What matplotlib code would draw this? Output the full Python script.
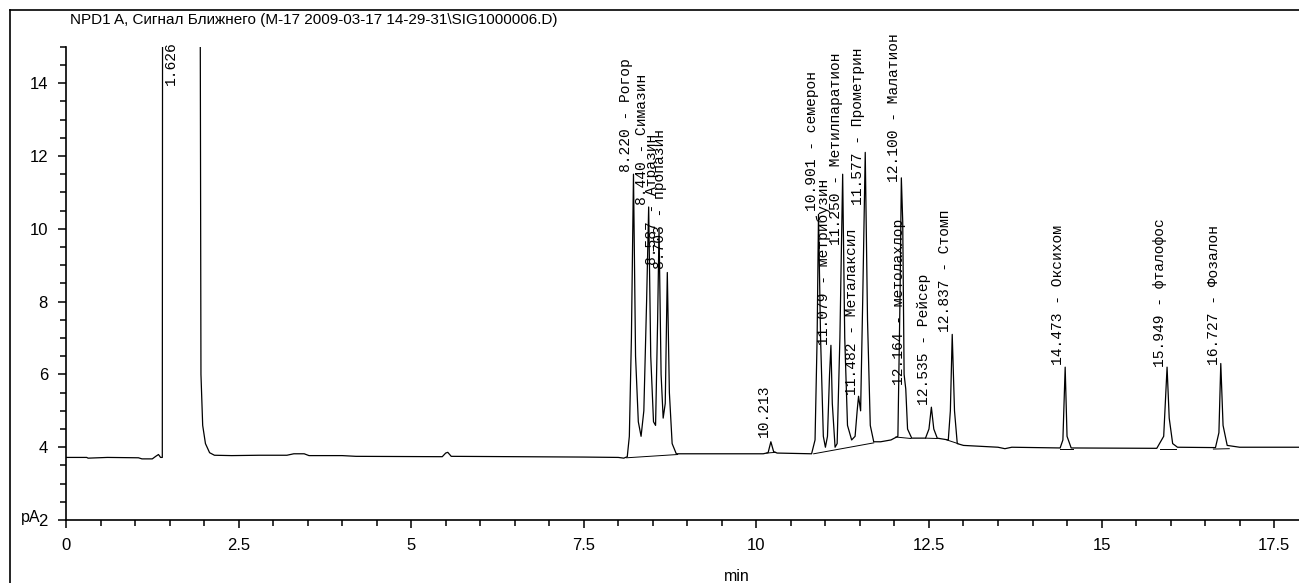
import matplotlib.pyplot as plt
from matplotlib.lines import Line2D
from matplotlib.ticker import MultipleLocator

# signal points (time in min, signal in pA)
trace_t = [0.00, 0.30, 0.32, 0.60, 1.05, 1.10, 1.25, 1.30, 1.34, 1.37, 1.395, 1.40,
           1.94, 1.955, 1.98, 2.02, 2.08, 2.15, 2.40, 2.80, 3.20, 3.30, 3.45, 3.52,
           4.00, 4.20, 5.45, 5.50, 5.53, 5.58, 6.50, 7.50, 8.00, 8.08, 8.13,
           8.16, 8.19, 8.22, 8.25, 8.29, 8.33, 8.37, 8.41, 8.44, 8.47, 8.51, 8.54,
           8.57, 8.59, 8.62, 8.65, 8.68, 8.71, 8.74, 8.78, 8.84, 8.95, 9.50, 10.10,
           10.17, 10.21, 10.25, 10.30, 10.80, 10.85, 10.88, 10.90, 10.93, 10.97,
           11.00, 11.03, 11.06, 11.08, 11.10, 11.14, 11.17, 11.21, 11.25, 11.28,
           11.32, 11.38, 11.43, 11.46, 11.48, 11.51, 11.54, 11.577, 11.61, 11.65,
           11.70, 11.80, 11.95, 12.05, 12.08, 12.10, 12.12, 12.14, 12.164, 12.19,
           12.25, 12.45, 12.50, 12.535, 12.57, 12.62, 12.78, 12.81, 12.837, 12.87,
           12.91, 13.00, 13.50, 13.60, 13.70, 14.40, 14.44, 14.473, 14.50, 14.56,
           15.80, 15.90, 15.949, 15.98, 16.03, 16.10, 16.65, 16.70, 16.727, 16.76,
           16.82, 17.00, 17.86]
trace_y = [3.72, 3.72, 3.70, 3.72, 3.71, 3.68, 3.68, 3.75, 3.80, 3.72, 3.72, 20.0,
           20.0, 6.0, 4.6, 4.1, 3.85, 3.78, 3.77, 3.78, 3.78, 3.82, 3.82, 3.77,
           3.77, 3.75, 3.74, 3.84, 3.86, 3.75, 3.74, 3.73, 3.72, 3.70, 3.74,
           4.3, 7.0, 11.5, 6.5, 4.7, 4.3, 5.0, 8.0, 10.6, 6.5, 4.7, 4.6,
           7.5, 10.0, 6.0, 4.8, 5.2, 8.8, 5.5, 4.1, 3.82, 3.82, 3.82, 3.82,
           3.85, 4.15, 3.88, 3.84, 3.82, 4.2, 7.0, 10.4, 7.0, 4.3,
           4.0, 4.3, 6.0, 6.8, 5.2, 4.0, 4.1, 7.0, 11.5, 7.0,
           4.6, 4.2, 4.3, 5.0, 5.4, 5.0, 8.0, 12.1, 7.5, 4.6,
           4.15, 4.15, 4.2, 4.3, 8.0, 11.4, 10.2, 6.0, 5.6, 4.5,
           4.25, 4.25, 4.5, 5.1, 4.5, 4.25, 4.2, 5.0, 7.1, 5.0,
           4.1, 4.05, 4.0, 3.96, 4.0, 3.98, 4.2, 6.2, 4.3, 3.98,
           3.97, 4.3, 6.2, 4.8, 4.1, 4.0, 3.99, 4.4, 6.3, 4.6,
           4.05, 4.0, 4.0]

# integration baselines
base_t0 = [8.12, 10.15, 10.83, 12.02, 12.45, 12.76, 14.40, 15.85, 16.62]
base_y0 = [3.71, 3.84, 3.82, 4.28, 4.25, 4.20, 3.95, 3.94, 3.95]
base_t1 = [8.86, 10.28, 11.70, 12.24, 12.62, 12.92, 14.58, 16.08, 16.85]
base_y1 = [3.80, 3.86, 4.12, 4.24, 4.24, 4.10, 3.95, 3.94, 3.96]

# peak labels: retention time, where the label starts, compound
peak_t = [1.626, 8.220, 8.440, 8.587, 8.703, 10.213, 10.901, 11.079, 11.250,
          11.482, 11.577, 12.100, 12.164, 12.535, 12.837, 14.473, 15.949, 16.727]
label_y = [13.95, 11.55, 10.65, 9.0, 8.9, 4.28, 10.5, 6.8, 9.55,
           5.43, 10.65, 11.3, 5.7, 5.16, 7.16, 6.26, 6.2, 6.26]
peak_names = ["", "Рогор", "Симазин", "Атразин", "пропазин", "", "семерон",
              "метрибузин", "Метилпаратион", "Металаксил", "Прометрин", "Малатион",
              "метолахлор", "Рейсер", "Стомп", "Оксихом", "фталофос", "Фозалон"]

fig = plt.figure(figsize=(12.99, 5.83), dpi=100)
ax = fig.add_axes([0.0508, 0.108, 0.9492, 0.8117])

ax.plot(trace_t, trace_y, color="black", lw=0.9)
for i in range(len(base_t0)):
    ax.plot([base_t0[i], base_t1[i]], [base_y0[i], base_y1[i]], color="black", lw=0.7)

for t, h, name in zip(peak_t, label_y, peak_names):
    txt = "%.3f" % t if name == "" else "%.3f - %s" % (t, name)
    ax.text(t, h, txt, rotation=90, ha="right", va="bottom",
            fontsize=10.5, family="Liberation Mono", clip_on=False)

ax.set_xlim(0, 17.86)
ax.set_ylim(2, 15)
for s in ["top", "right"]:
    ax.spines[s].set_visible(False)
ax.spines["left"].set_linewidth(1.2)
ax.spines["bottom"].set_linewidth(1.2)

ax.xaxis.set_major_locator(MultipleLocator(2.5))
ax.xaxis.set_minor_locator(MultipleLocator(0.5))
ax.yaxis.set_major_locator(MultipleLocator(2))
ax.yaxis.set_minor_locator(MultipleLocator(0.5))
ax.set_xticks([0, 2.5, 5, 7.5, 10, 12.5, 15, 17.5])
ax.set_xticklabels(["0", "2.5", "5", "7.5", "10", "12.5", "15", "17.5"])
ax.tick_params(which="major", length=6, width=1.1, direction="out", labelsize=12, pad=7)
ax.tick_params(which="minor", length=4, width=1.1, direction="out")
for lab in ax.get_xticklabels() + ax.get_yticklabels():
    lab.set_family("Liberation Sans")

fig.text(0.054, 0.965, "NPD1 A, Сигнал Ближнего (M-17 2009-03-17 14-29-31\\SIG1000006.D)",
         fontsize=11, family="Liberation Sans", va="center", ha="left")
fig.text(0.016, 0.113, "pA", fontsize=11.5, family="Liberation Sans", va="center")
fig.text(0.567, 0.012, "min", fontsize=11.5, family="Liberation Sans", va="center", ha="center")

# outer frame lines (left and top)
fig.add_artist(Line2D([0.008, 0.008], [0.0, 0.983], color="black", lw=1.2))
fig.add_artist(Line2D([0.008, 1.0], [0.983, 0.983], color="black", lw=1.2))

fig.savefig("out.png", dpi=100)
